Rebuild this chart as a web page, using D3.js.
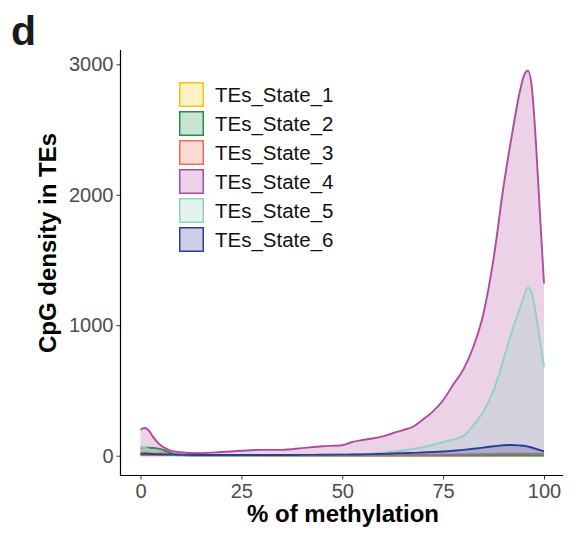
<!DOCTYPE html>
<html>
<head>
<meta charset="utf-8">
<script src="https://cdn.jsdelivr.net/npm/d3@7"></script>
<style>
  body { margin: 0; background: #fff; }
  svg { display: block; font-family: "Liberation Sans", Arial, sans-serif; }
</style>
</head>
<body>
<svg id="chart" width="580" height="540"></svg>
<script>
// % methylation grid shared by all states
const methylation = [0, 1, 2, 3, 4, 5, 6, 7, 8, 10, 12, 15,
  20, 25, 30, 35, 40, 45, 50,
  52.5, 55, 57.5, 60, 62.5, 65, 67.5, 70, 72.5, 75, 77.5, 80, 82.5, 85, 87.5, 90,
  92, 94, 95, 96, 97, 98, 99, 100]

const state1 = [25, 25, 25, 24, 24, 23, 22, 20, 16, 8, 3, 2,
  2, 2, 2, 2, 2, 2, 2,
  2, 2, 2, 2, 2, 2, 2, 2, 2, 2, 2, 2, 2, 2, 2, 2,
  2, 2, 2, 2, 2, 2, 2, 2]

const state2 = [62, 62, 61, 59, 56, 50, 40, 28, 16, 5, 2, 1,
  1, 1, 1, 1, 1, 1, 1,
  1, 1, 1, 1, 1, 1, 1, 1, 1, 1, 1, 1, 1, 1, 1, 1,
  1, 1, 1, 1, 1, 1, 1, 1]

const state3 = [4, 4, 4, 4, 4, 4, 4, 4, 4, 4, 4, 4,
  4, 4, 4, 4, 4, 4, 4,
  4, 4, 4, 4, 4, 5, 5, 6, 7, 8, 9, 10, 11, 13, 14, 15,
  15, 15, 15, 15, 15, 15, 14, 14]

const state4 = [200, 212, 195, 150, 110, 80, 60, 45, 35, 26, 21, 20,
  28, 38, 45, 45, 58, 72, 80,
  105, 120, 132, 148, 172, 196, 222, 278, 340, 425, 545, 660, 835, 1090, 1510, 2070,
  2450, 2790, 2910, 2950, 2820, 2400, 1850, 1320]

const state5 = [70, 62, 48, 32, 20, 12, 8, 5, 4, 3, 3, 3,
  3, 4, 4, 5, 6, 7, 9,
  11, 14, 18, 24, 30, 40, 52, 65, 82, 105, 124, 150, 232, 340, 500, 740,
  950, 1130, 1220, 1290, 1240, 1090, 880, 680]

const state6 = [15, 15, 14, 13, 12, 11, 10, 9, 8, 7, 6, 5,
  5, 5, 5, 5, 6, 7, 8,
  9, 10, 12, 14, 17, 20, 22, 25, 28, 32, 38, 45, 53, 62, 72, 80,
  82, 79, 76, 70, 63, 53, 42, 32]

const stateNames = ['TEs_State_1', 'TEs_State_2', 'TEs_State_3', 'TEs_State_4', 'TEs_State_5', 'TEs_State_6']
const stateColors = ['#F2C314', '#23904A', '#EE6C5C', '#AF4A9F', '#8FD3C5', '#2B3E96']
const stateValues = [state1, state2, state3, state4, state5, state6]

const xTicks = [0, 25, 50, 75, 100]
const yTicks = [0, 1000, 2000, 3000]

const svg = d3.select('#chart')

const x = d3.scaleLinear().domain([0, 100]).range([140.5, 544])
const y = d3.scaleLinear().domain([0, 3000]).range([455.7, 64.3])

const series = stateNames.map((name, i) => ({
  name,
  color: stateColors[i],
  points: methylation.map((m, j) => ({ m, v: stateValues[i][j] }))
}))

const area = d3.area()
    .x(d => x(d.m))
    .y0(y(0))
    .y1(d => y(d.v))
    .curve(d3.curveMonotoneX)

const line = d3.line()
    .x(d => x(d.m))
    .y(d => y(d.v))
    .curve(d3.curveMonotoneX)

// densities, drawn in state order like ggplot groups
const groups = svg.append('g').selectAll('g')
  .data(series)
  .join('g')

groups.append('path')
    .attr('d', d => area(d.points))
    .attr('fill', d => d.color)
    .attr('fill-opacity', 0.25)

groups.append('path')
    .attr('d', d => line(d.points))
    .attr('fill', 'none')
    .attr('stroke', d => d.color)
    .attr('stroke-width', 1.9)

// axes
const xAxis = svg.append('g')
    .attr('transform', 'translate(0,475.5)')
    .call(d3.axisBottom(x).tickValues(xTicks).tickFormat(d3.format('d')).tickSize(4).tickPadding(4))

const yAxis = svg.append('g')
    .attr('transform', 'translate(120.5,0)')
    .call(d3.axisLeft(y).tickValues(yTicks).tickFormat(d3.format('d')).tickSize(4).tickPadding(3))

for (const ax of [xAxis, yAxis]) {
  ax.select('.domain').remove()
  ax.selectAll('.tick line').attr('stroke', '#333').attr('stroke-width', 1)
  ax.selectAll('.tick text')
      .attr('fill', '#4d4d4d')
      .style('font-size', '20px')
      .style('font-family', '"Liberation Sans", Arial, sans-serif')
}

svg.append('line')
    .attr('x1', 120.5).attr('x2', 120.5)
    .attr('y1', 50).attr('y2', 476)
    .attr('stroke', '#000').attr('stroke-width', 1.2)

svg.append('line')
    .attr('x1', 120).attr('x2', 563)
    .attr('y1', 475.5).attr('y2', 475.5)
    .attr('stroke', '#000').attr('stroke-width', 1.2)

// axis titles
svg.append('text')
    .attr('x', 343)
    .attr('y', 522)
    .attr('text-anchor', 'middle')
    .style('font-size', '24px')
    .style('font-weight', 'bold')
    .text('% of methylation')

svg.append('text')
    .attr('transform', 'translate(56,243) rotate(-90)')
    .attr('text-anchor', 'middle')
    .style('font-size', '24px')
    .style('font-weight', 'bold')
    .text('CpG density in TEs')

// panel tag
svg.append('text')
    .attr('x', 11)
    .attr('y', 45)
    .style('font-size', '41px')
    .style('font-weight', 'bold')
    .attr('fill', '#1a1a1a')
    .text('d')

// legend
const legend = svg.append('g')
  .selectAll('g')
  .data(series)
  .join('g')
    .attr('transform', (d, i) => `translate(179,${82 + i * 29})`)

legend.append('rect')
    .attr('x', 0.75).attr('y', 0.75)
    .attr('width', 23.5).attr('height', 23.5)
    .attr('fill', d => d.color)
    .attr('fill-opacity', 0.25)
    .attr('stroke', d => d.color)
    .attr('stroke-width', 1.5)

legend.append('text')
    .attr('x', 36)
    .attr('y', 12.5)
    .attr('dy', '0.36em')
    .style('font-size', '20.5px')
    .attr('fill', '#111')
    .text(d => d.name)
</script>
</body>
</html>
